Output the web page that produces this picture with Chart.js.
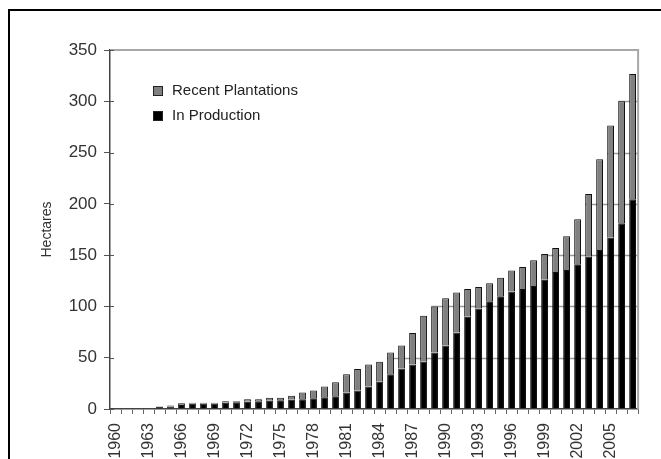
<!DOCTYPE html>
<html>
<head>
<meta charset="utf-8">
<script src="https://cdn.jsdelivr.net/npm/chart.js@4/dist/chart.umd.min.js"></script>
<style>
    body { margin: 0; overflow: hidden; background: #fff; }
    #frame { position: absolute; left: 8px; top: 9px; width: 700px; height: 500px;
             border-left: 2px solid #000; border-top: 2px solid #000; }
    #wrap { position: absolute; left: 0; top: 0; width: 661px; height: 470px; }
</style>
</head>
<body>
<div id="frame"></div>
<div id="wrap"><canvas id="myChart"></canvas></div>
<script>
// Years on the x axis
const years = [
    '1960', '1961', '1962', '1963', '1964', '1965', '1966', '1967', '1968', '1969',
    '1970', '1971', '1972', '1973', '1974', '1975', '1976', '1977', '1978', '1979',
    '1980', '1981', '1982', '1983', '1984', '1985', '1986', '1987', '1988', '1989',
    '1990', '1991', '1992', '1993', '1994', '1995', '1996', '1997', '1998', '1999',
    '2000', '2001', '2002', '2003', '2004', '2005', '2006', '2007'
];

// Hectares in production (bottom, black)
const inProduction = [
    0, 0, 0, 0, 2, 2.5, 4, 5, 5, 5,
    6, 6.5, 7, 7.5, 8, 8.5, 9, 9.5, 10.5, 11.5,
    12.5, 16, 18, 22, 26.5, 34, 39.5, 43.5, 46, 55,
    62, 74.5, 90, 98, 105, 110, 114.5, 117, 120, 126,
    133.5, 135.5, 141, 148.5, 155, 167, 181, 204.5
];

// Hectares of recent plantations (top, grey)
const recentPlantations = [
    0, 0, 0, 0, 0.5, 1, 1.5, 1, 1, 1,
    1.5, 1, 2.5, 2, 3, 2.5, 4, 6.5, 7.5, 10.5,
    13.5, 18, 21, 21.5, 19.5, 21, 22.5, 30.5, 45, 45,
    46, 39, 27, 21, 17.5, 18, 20.5, 21.5, 25, 25,
    23.5, 33, 44, 61, 88.5, 109.5, 119, 122
];

const yTicks = [0, 50, 100, 150, 200, 250, 300, 350];

const fontFamily = '"Liberation Sans", Arial, sans-serif';

// Grid segments only where the bars reach them, plus the grey plot border
const gridAndBorder = {
    id: 'gridAndBorder',
    beforeDatasetsDraw(chart) {
        const { ctx, chartArea: a, scales: { y } } = chart;
        const meta = chart.getDatasetMeta(0);
        const totals = years.map((_, i) =>
            chart.data.datasets.reduce((s, d) => s + d.data[i], 0));
        ctx.save();
        ctx.strokeStyle = '#9a9a9a';
        ctx.lineWidth = 1.5;
        yTicks.slice(1, -1).forEach(v => {
            const i = totals.findIndex(t => t >= v);
            if (i < 0) return;
            const bar = meta.data[i];
            const py = Math.round(y.getPixelForValue(v)) + 0.5;
            ctx.beginPath();
            ctx.moveTo(bar.x - bar.width / 2, py);
            ctx.lineTo(a.right, py);
            ctx.stroke();
        });
        ctx.strokeStyle = '#a8a8a8';
        ctx.lineWidth = 2;
        ctx.beginPath();
        ctx.moveTo(a.left, a.top);
        ctx.lineTo(a.right, a.top);
        ctx.lineTo(a.right, a.bottom);
        ctx.stroke();
        ctx.restore();
    },
    afterDraw(chart) {
        const { ctx, chartArea: a, scales: { y } } = chart;
        ctx.save();
        // y ticks poke a little into the plot
        ctx.strokeStyle = '#555';
        ctx.lineWidth = 1;
        yTicks.forEach(v => {
            const py = Math.round(y.getPixelForValue(v)) + 0.5;
            ctx.beginPath();
            ctx.moveTo(a.left, py);
            ctx.lineTo(a.left + 4, py);
            ctx.stroke();
        });
        // legend inside the plot, upper left
        const sets = chart.data.datasets.slice().reverse();
        ctx.font = '15px ' + fontFamily;
        ctx.textBaseline = 'middle';
        sets.forEach((d, k) => {
            const cy = 91 + k * 25;
            ctx.fillStyle = d.backgroundColor;
            ctx.fillRect(153, cy - 5, 10, 10);
            ctx.strokeStyle = '#222';
            ctx.lineWidth = 1;
            ctx.strokeRect(153.5, cy - 4.5, 9, 9);
            ctx.fillStyle = '#222';
            ctx.fillText(d.label, 172, cy);
        });
        ctx.restore();
    }
};

const ctx = document.getElementById('myChart').getContext('2d');

const myChart = new Chart(ctx, {
    type: 'bar',
    data: {
        labels: years,
        datasets: [{
            label: 'In Production',
            data: inProduction,
            backgroundColor: '#000000',
            borderColor: '#111111',
            borderWidth: 1,
            barPercentage: 0.62,
            categoryPercentage: 1
        }, {
            label: 'Recent Plantations',
            data: recentPlantations,
            backgroundColor: '#808080',
            borderColor: '#111111',
            borderWidth: 1,
            barPercentage: 0.62,
            categoryPercentage: 1
        }]
    },
    options: {
        responsive: true,
        maintainAspectRatio: false,
        animation: false,
        layout: { padding: { left: 35, top: 50, right: 19, bottom: 0 } },
        scales: {
            x: {
                stacked: true,
                afterFit: s => { s.height = 61; },
                grid: {
                    drawOnChartArea: false,
                    tickLength: 5,
                    color: '#666'
                },
                border: { color: '#444', width: 1.5 },
                ticks: {
                    autoSkip: false,
                    maxRotation: 90,
                    minRotation: 90,
                    padding: 9,
                    color: '#333',
                    font: { family: fontFamily, size: 16 },
                    callback: (v, i) => (i % 3 === 0 ? years[i] : '')
                }
            },
            y: {
                stacked: true,
                min: 0,
                max: 350,
                afterFit: s => { s.width = 75; },
                afterBuildTicks: s => { s.ticks = yTicks.map(v => ({ value: v })); },
                title: {
                    display: true,
                    text: 'Hectares',
                    color: '#333',
                    padding: 4,
                    font: { family: fontFamily, size: 14 }
                },
                grid: {
                    drawOnChartArea: false,
                    tickLength: 6,
                    color: '#555'
                },
                border: { color: '#444', width: 1.5 },
                ticks: {
                    padding: 7,
                    color: '#333',
                    font: { family: fontFamily, size: 17 }
                }
            }
        },
        plugins: {
            legend: { display: false },
            tooltip: { enabled: false }
        }
    },
    plugins: [gridAndBorder]
});
</script>
</body>
</html>
